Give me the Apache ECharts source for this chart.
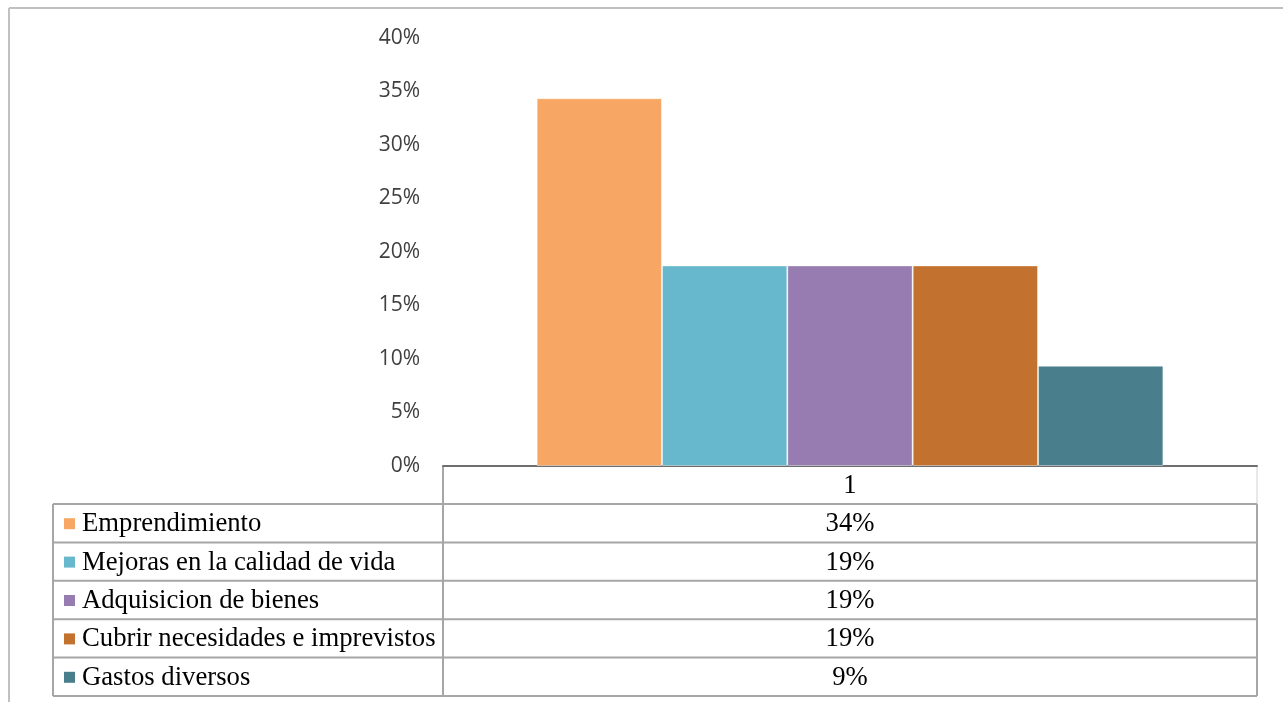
<!DOCTYPE html>
<html>
<head>
<meta charset="utf-8">
<script src="https://cdn.jsdelivr.net/npm/echarts@6/dist/echarts.min.js"></script>
<style>
  html, body { margin: 0; padding: 0; background: #fff; }
  #main { width: 1283px; height: 702px; }
</style>
</head>
<body>
<div id="main"></div>
<script>
var categories = ['1'];
var seriesNames = ['Emprendimiento', 'Mejoras en la calidad de vida', 'Adquisicion de bienes', 'Cubrir necesidades e imprevistos', 'Gastos diversos'];
var seriesValues = [0.34375, 0.1875, 0.1875, 0.1875, 0.09375];
var seriesColors = ['#F7A763', '#67B8CD', '#967CB1', '#C3712F', '#497F8D'];
var yTicks = [0, 0.05, 0.1, 0.15, 0.2, 0.25, 0.3, 0.35, 0.4];

var myChart = echarts.init(document.getElementById('main'));

// tabla de datos debajo del eje
var tableLeft = 53, colSplit = 443, tableRight = 1257;
var headerTop = 466, headerBottom = 504, rowH = 38.4;
var graphics = [];
var lineColor = '#A6A6A6';
var tableFont = '26.7px "Liberation Serif"';

// marco exterior
graphics.push({ type: 'line', shape: { x1: 9, y1: 8, x2: 1283, y2: 8 }, style: { stroke: '#C0C0C0', lineWidth: 2 } });
graphics.push({ type: 'line', shape: { x1: 9, y1: 8, x2: 9, y2: 702 }, style: { stroke: '#C0C0C0', lineWidth: 2 } });

// cabecera
graphics.push({ type: 'line', shape: { x1: colSplit, y1: headerTop, x2: colSplit, y2: headerBottom }, style: { stroke: lineColor, lineWidth: 2 } });
graphics.push({ type: 'line', shape: { x1: tableRight, y1: headerTop, x2: tableRight, y2: headerBottom }, style: { stroke: '#D0D0D0', lineWidth: 1 } });
graphics.push({ type: 'text', x: (colSplit + tableRight) / 2, y: (headerTop + headerBottom) / 2 + 1,
  style: { text: categories[0], font: tableFont, fill: '#000', align: 'center', verticalAlign: 'middle' } });

var tableBottom = headerBottom + rowH * seriesNames.length;
graphics.push({ type: 'line', shape: { x1: tableLeft, y1: headerBottom, x2: tableRight, y2: headerBottom }, style: { stroke: lineColor, lineWidth: 2 } });
graphics.push({ type: 'line', shape: { x1: tableLeft, y1: headerBottom, x2: tableLeft, y2: tableBottom }, style: { stroke: lineColor, lineWidth: 2 } });
graphics.push({ type: 'line', shape: { x1: colSplit, y1: headerBottom, x2: colSplit, y2: tableBottom }, style: { stroke: lineColor, lineWidth: 2 } });
graphics.push({ type: 'line', shape: { x1: tableRight, y1: headerBottom, x2: tableRight, y2: tableBottom }, style: { stroke: lineColor, lineWidth: 2 } });

seriesNames.forEach(function (name, i) {
  var top = headerBottom + rowH * i;
  var mid = top + rowH / 2 + 1;
  graphics.push({ type: 'line', shape: { x1: tableLeft, y1: top + rowH, x2: tableRight, y2: top + rowH }, style: { stroke: lineColor, lineWidth: 2 } });
  graphics.push({ type: 'rect', shape: { x: 64, y: mid - 6, width: 11, height: 11 }, style: { fill: seriesColors[i] } });
  graphics.push({ type: 'text', x: 82, y: mid,
    style: { text: name, font: tableFont, fill: '#000', align: 'left', verticalAlign: 'middle' } });
  graphics.push({ type: 'text', x: (colSplit + tableRight) / 2, y: mid,
    style: { text: Math.round(seriesValues[i] * 100) + '%', font: tableFont, fill: '#000', align: 'center', verticalAlign: 'middle' } });
});

var option = {
  animation: false,
  grid: { left: 443, right: 26, top: 38, bottom: 236 },
  xAxis: {
    type: 'category',
    data: categories,
    axisLine: { lineStyle: { color: '#6E6E6E', width: 2 } },
    axisTick: { show: false },
    axisLabel: { show: false }
  },
  yAxis: {
    type: 'value',
    min: yTicks[0],
    max: yTicks[yTicks.length - 1],
    interval: 0.05,
    splitLine: { show: false },
    axisLine: { show: false },
    axisTick: { show: false },
    axisLabel: {
      margin: 23,
      fontFamily: 'Open Sans',
      fontSize: 21,
      color: '#404040',
      formatter: function (v) { return Math.round(v * 100) + '%'; }
    }
  },
  series: seriesNames.map(function (name, i) {
    return {
      name: name,
      type: 'bar',
      data: [seriesValues[i]],
      barGap: '0%',
      barCategoryGap: '23%',
      itemStyle: { color: seriesColors[i], borderColor: 'rgba(255,255,255,0.45)', borderWidth: 1 }
    };
  }),
  graphic: graphics
};

myChart.setOption(option);
</script>
</body>
</html>
